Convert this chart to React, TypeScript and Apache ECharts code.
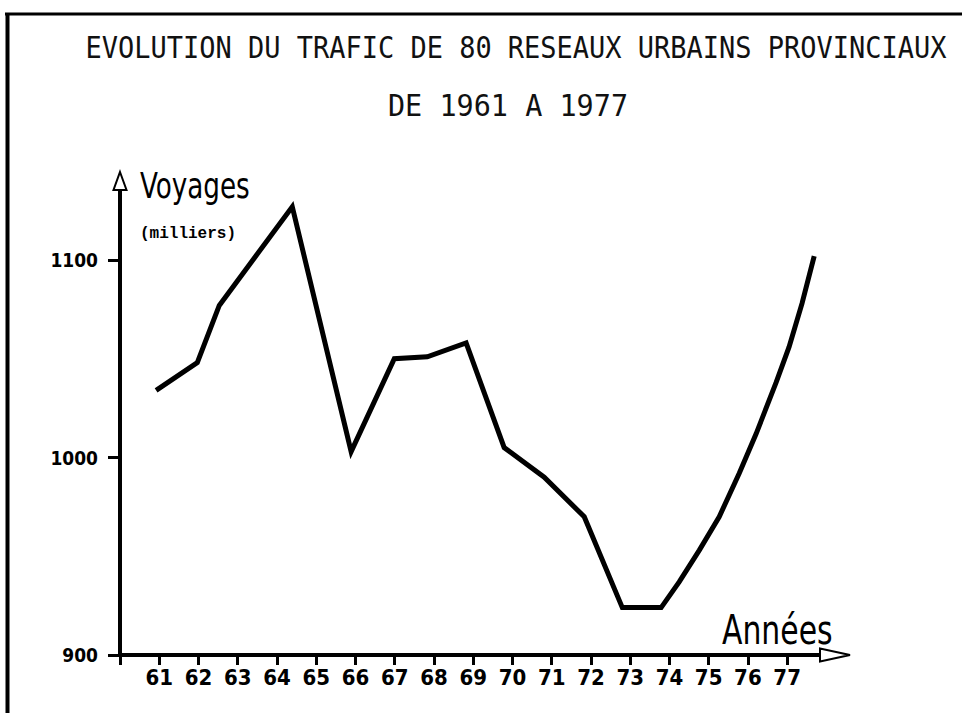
import React, { useEffect, useRef } from "react";
import * as echarts from "echarts";

// Data (year as two digits, trips in thousands)
const years = [60.92, 61.97, 62.53, 64.39, 65.89, 66.99, 67.83, 68.82, 69.79, 70.81, 71.83, 72.8, 73.79, 74.25, 74.76, 75.27, 75.78, 76.21, 76.72, 77.05, 77.38, 77.69];
const trips = [1034, 1048, 1077, 1127, 1003, 1050, 1051, 1058, 1005, 990, 970, 924, 924, 937, 953, 970, 992, 1012, 1038, 1056, 1078, 1102];
const yearTicks = [61, 62, 63, 64, 65, 66, 67, 68, 69, 70, 71, 72, 73, 74, 75, 76, 77];
const valueTicks = [900, 1000, 1100];

const titleLine1 = "EVOLUTION DU TRAFIC DE 80 RESEAUX URBAINS PROVINCIAUX";
const titleLine2 = "DE 1961 A 1977";
const yName = "Voyages";
const yUnit = "(milliers)";
const xName = "Années";

const NARROW = "'Liberation Sans Narrow', 'DejaVu Sans Condensed', sans-serif";
const COND = "'DejaVu Sans Condensed', 'DejaVu Sans', sans-serif";

export default function App() {
  const ref = useRef<HTMLDivElement>(null);
  useEffect(() => {
    if (!ref.current) return;
    const chart = echarts.init(ref.current, null, { renderer: "svg" });
    const points = years.map((y, i) => [y, trips[i]]);
    chart.setOption({
      animation: false,
      backgroundColor: "#ffffff",
      grid: { left: 120, right: 127, top: 181, bottom: 58, outerBoundsMode: "none" },
      xAxis: {
        type: "value",
        min: 60,
        max: 78.22,
        splitLine: { show: false },
        axisLine: {
          show: true,
          onZero: false,
          symbol: ["none", "emptyTriangle"],
          symbolSize: [13, 30],
          lineStyle: { color: "#000", width: 4 },
        },
        axisTick: {
          show: true,
          inside: false,
          length: 10,
          customValues: [60, ...yearTicks],
          lineStyle: { color: "#000", width: 3 },
        },
        axisLabel: {
          show: true,
          customValues: yearTicks,
          margin: 11,
          color: "#000",
          fontFamily: COND,
          fontWeight: "bold",
          fontSize: 22,
          formatter: (v: number) => String(v),
        },
      },
      yAxis: {
        type: "value",
        min: 900,
        max: 1140,
        splitLine: { show: false },
        axisLine: {
          show: true,
          onZero: false,
          symbol: ["none", "emptyTriangle"],
          symbolSize: [13, 18],
          lineStyle: { color: "#000", width: 4 },
        },
        axisTick: {
          show: true,
          inside: false,
          length: 12,
          customValues: valueTicks,
          lineStyle: { color: "#000", width: 3 },
        },
        axisLabel: {
          show: true,
          customValues: valueTicks,
          margin: 22,
          color: "#000",
          fontFamily: COND,
          fontWeight: "bold",
          fontSize: 19,
          formatter: (v: number) => String(v),
        },
      },
      series: [
        {
          type: "line",
          data: points,
          showSymbol: false,
          symbol: "none",
          lineStyle: { color: "#000", width: 5, join: "miter" },
          z: 3,
        },
      ],
      graphic: [
        { type: "line", shape: { x1: 5, y1: 14, x2: 962, y2: 14 }, style: { stroke: "#000", lineWidth: 3 } },
        { type: "line", shape: { x1: 7.5, y1: 13, x2: 7.5, y2: 713 }, style: { stroke: "#000", lineWidth: 4 } },
        {
          type: "text",
          x: 516,
          y: 48,
          scaleX: 0.9,
          style: {
            text: titleLine1,
            fontFamily: "'DejaVu Sans Mono', monospace",
            fontSize: 30,
            fill: "#111",
            align: "center",
            verticalAlign: "middle",
          },
        },
        {
          type: "text",
          x: 508,
          y: 106,
          scaleX: 0.95,
          style: {
            text: titleLine2,
            fontFamily: "'DejaVu Sans Mono', monospace",
            fontSize: 30,
            fill: "#111",
            align: "center",
            verticalAlign: "middle",
          },
        },
        {
          type: "text",
          x: 140,
          y: 186,
          scaleX: 0.81,
          style: {
            text: yName,
            fontFamily: NARROW,
            fontSize: 36,
            fill: "#000",
            align: "left",
            verticalAlign: "middle",
          },
        },
        {
          type: "text",
          x: 140,
          y: 234,
          style: {
            text: yUnit,
            fontFamily: "'Liberation Mono', 'DejaVu Sans Mono', monospace",
            fontWeight: "bold",
            fontSize: 16,
            fill: "#000",
            align: "left",
            verticalAlign: "middle",
          },
        },
        {
          type: "text",
          x: 722,
          y: 630,
          scaleX: 0.83,
          style: {
            text: xName,
            fontFamily: NARROW,
            fontSize: 40,
            fill: "#000",
            align: "left",
            verticalAlign: "middle",
          },
        },
      ],
    });
    return () => chart.dispose();
  }, []);
  return (
    <div
      ref={ref}
      style={{ position: "fixed", left: 0, top: 0, width: 962, height: 713, background: "#fff" }}
    />
  );
}
